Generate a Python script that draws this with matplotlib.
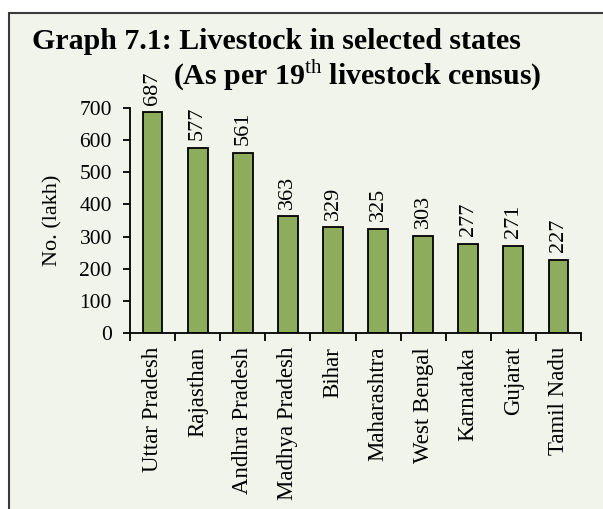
import numpy as np
import matplotlib
matplotlib.use("Agg")
import matplotlib.pyplot as plt
from matplotlib.patches import Rectangle

# data
states = ["Uttar Pradesh", "Rajasthan", "Andhra Pradesh", "Madhya Pradesh", "Bihar",
          "Maharashtra", "West Bengal", "Karnataka", "Gujarat", "Tamil Nadu"]
livestock = [687, 577, 561, 363, 329, 325, 303, 277, 271, 227]
yticks = [0, 100, 200, 300, 400, 500, 600, 700]

plt.rcParams['font.family'] = ['Liberation Serif', 'DejaVu Serif']
plt.rcParams['mathtext.fontset'] = 'custom'
plt.rcParams['mathtext.rm'] = 'Liberation Serif'

W, H = 603, 509
fig = plt.figure(figsize=(W / 100, H / 100), dpi=100, facecolor='white')

# panel background with border (open to the right/bottom like the source crop)
fig.patches.append(Rectangle((8.5 / W, -0.1), 1.2, 1.1 - 12.5 / H,
                             transform=fig.transFigure, facecolor='#F1F4EA',
                             edgecolor='#3a3a3a', linewidth=1.5, zorder=-1))

ax = fig.add_axes([130 / W, 1 - 333 / H, 451 / W, 225 / H])
ax.set_facecolor('none')

x = np.arange(len(states))
bars = ax.bar(x, livestock, width=0.44, color='#8EAD5C', edgecolor='black',
              linewidth=1.3, zorder=2)

for xi, v in zip(x, livestock):
    ax.annotate(str(v), (xi, v), xytext=(0, 5.5), textcoords='offset points',
                rotation=90, ha='center', va='bottom', fontsize=16)

ax.set_xlim(-0.5, len(states) - 0.5)
ax.set_ylim(0, 700)
ax.set_yticks(yticks)
ax.tick_params(axis='y', labelsize=15.5, length=5, width=1.3, pad=8, direction='out')

# ticks between categories, labels centred under bars
ax.set_xticks(np.arange(len(states) + 1) - 0.5)
ax.set_xticklabels([])
ax.set_xticks(x, minor=True)
ax.set_xticklabels(states, minor=True, rotation=90, fontsize=16.5, va='top')
ax.tick_params(axis='x', which='major', length=6, width=1.3, direction='out')
ax.tick_params(axis='x', which='minor', length=0, pad=10)

for s in ['top', 'right']:
    ax.spines[s].set_visible(False)
for s in ['left', 'bottom']:
    ax.spines[s].set_linewidth(1.3)

ax.set_ylabel("No. (lakh)", fontsize=16)
ax.yaxis.set_label_coords(-0.15, 0.5)

fig.text(32 / W, 1 - 49 / H, "Graph 7.1: Livestock in selected states",
         fontsize=21.5, fontweight='bold', ha='left', va='baseline')
fig.text(173 / W, 1 - 85 / H, "(As per 19$^{\\mathrm{th}}$ livestock census)",
         fontsize=21.5, fontweight='bold', ha='left', va='baseline')

fig.savefig("out.png", dpi=100, facecolor='white')
